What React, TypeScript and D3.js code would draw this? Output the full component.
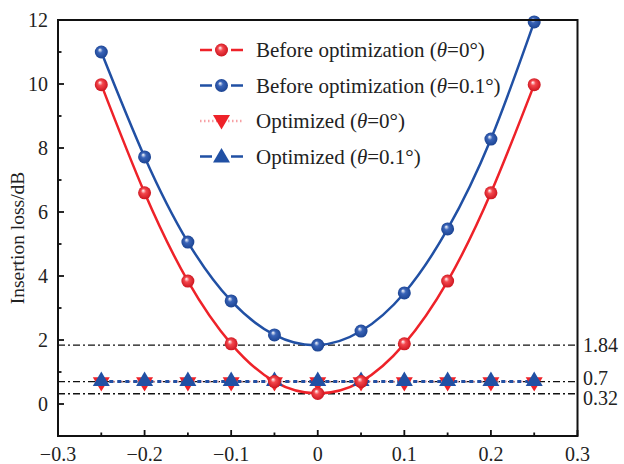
import React from "react";
import * as d3 from "d3";

const xValues = [-0.25, -0.2, -0.15, -0.1, -0.05, 0, 0.05, 0.1, 0.15, 0.2, 0.25];
const beforeTheta0 = [9.98, 6.6, 3.84, 1.88, 0.7, 0.33, 0.7, 1.88, 3.84, 6.6, 9.98];
const beforeTheta01 = [11.0, 7.72, 5.06, 3.22, 2.16, 1.84, 2.28, 3.47, 5.47, 8.28, 11.94];
const optimizedTheta0 = [0.7, 0.7, 0.7, 0.7, 0.7, 0.7, 0.7, 0.7, 0.7, 0.7, 0.7];
const optimizedTheta01 = [0.7, 0.7, 0.7, 0.7, 0.7, 0.7, 0.7, 0.7, 0.7, 0.7, 0.7];
const refLines = [1.84, 0.7, 0.32];
const refLabels = ["1.84", "0.7", "0.32"];
const xTicks = [-0.3, -0.2, -0.1, 0, 0.1, 0.2, 0.3];
const xMinorTicks = [-0.25, -0.15, -0.05, 0.05, 0.15, 0.25];
const yTicks = [0, 2, 4, 6, 8, 10, 12];
const yMinorTicks = [-1, 1, 3, 5, 7, 9, 11];

const RED = "#ee2229";
const BLUE = "#2150a4";
const FONT = "'Liberation Serif', 'Times New Roman', serif";

const L = 58, R = 577.5, T = 20, B = 436;

export default function App() {
  const x = d3.scaleLinear().domain([-0.3, 0.3]).range([L, R]);
  const y = d3.scaleLinear().domain([-1, 12]).range([B, T]);
  const line = d3
    .line<[number, number]>()
    .x((d) => x(d[0]))
    .y((d) => y(d[1]))
    .curve(d3.curveNatural);
  const straight = d3
    .line<[number, number]>()
    .x((d) => x(d[0]))
    .y((d) => y(d[1]));
  const pts = (vals: number[]) => xValues.map((v, i) => [v, vals[i]] as [number, number]);
  const fmt = (v: number) => (v < 0 ? "\u2212" + Math.abs(v) : String(v));

  const tri = (cx: number, cy: number, up: boolean, s = 8.5) =>
    up
      ? `M${cx},${cy - s} L${cx + s},${cy + s * 0.7} L${cx - s},${cy + s * 0.7} Z`
      : `M${cx},${cy + s} L${cx + s},${cy - s * 0.7} L${cx - s},${cy - s * 0.7} Z`;

  const legendRows = [
    { label: "Before optimization (", val: "=0°)", color: RED, kind: "ballR" },
    { label: "Before optimization (", val: "=0.1°)", color: BLUE, kind: "ballB" },
    { label: "Optimized (", val: "=0°)", color: "#f7a0a4", kind: "down" },
    { label: "Optimized (", val: "=0.1°)", color: BLUE, kind: "up" },
  ];

  return (
    <svg width={624} height={464} style={{ position: "absolute", left: 0, top: 0, background: "#fff" }}>
      <defs>
        <radialGradient id="ballR" cx="0.5" cy="0.5" r="0.55" fx="0.38" fy="0.32">
          <stop offset="0" stopColor="#ffffff" />
          <stop offset="0.35" stopColor="#f4474d" />
          <stop offset="1" stopColor="#c8101a" />
        </radialGradient>
        <radialGradient id="ballB" cx="0.5" cy="0.5" r="0.55" fx="0.38" fy="0.32">
          <stop offset="0" stopColor="#ffffff" />
          <stop offset="0.35" stopColor="#3a64b8" />
          <stop offset="1" stopColor="#18408e" />
        </radialGradient>
        <clipPath id="plot">
          <rect x={L} y={T} width={R - L} height={B - T} />
        </clipPath>
      </defs>

      {/* reference lines */}
      {refLines.map((v, i) => (
        <line key={"ref" + i} x1={L} x2={R} y1={y(v)} y2={y(v)} stroke="#111" strokeWidth={1.4} strokeDasharray="7,3,2,3" />
      ))}

      {/* optimized lines */}
      <path d={straight(pts(optimizedTheta0)) || ""} fill="none" stroke="#f7a0a4" strokeWidth={1.5} strokeDasharray="1.5,2.5" />
      <path d={straight(pts(optimizedTheta01)) || ""} fill="none" stroke={BLUE} strokeWidth={3} strokeDasharray="4,4" />

      {/* before curves */}
      <g clipPath="url(#plot)">
        <path d={line(pts(beforeTheta0)) || ""} fill="none" stroke={RED} strokeWidth={2.5} />
        <path d={line(pts(beforeTheta01)) || ""} fill="none" stroke={BLUE} strokeWidth={2.5} />
      </g>

      {/* optimized markers */}
      {xValues.map((v, i) => (
        <path key={"od" + i} d={tri(x(v), y(optimizedTheta0[i]) + 1.5, false)} fill={RED} />
      ))}
      {xValues.map((v, i) => (
        <path key={"ou" + i} d={tri(x(v), y(optimizedTheta01[i]) - 1.5, true)} fill={BLUE} />
      ))}

      {/* ball markers */}
      {xValues.map((v, i) => (
        <circle key={"br" + i} cx={x(v)} cy={y(beforeTheta0[i])} r={6.5} fill="url(#ballR)" />
      ))}
      {xValues.map((v, i) => (
        <circle key={"bb" + i} cx={x(v)} cy={y(beforeTheta01[i])} r={6.5} fill="url(#ballB)" />
      ))}

      {/* axes frame */}
      <rect x={L} y={T} width={R - L} height={B - T} fill="none" stroke="#111" strokeWidth={2} />

      {/* x ticks */}
      {xTicks.map((t) => (
        <g key={"xt" + t}>
          <line x1={x(t)} x2={x(t)} y1={B} y2={B - 6} stroke="#111" strokeWidth={1.8} />
          <text x={x(t)} y={461} textAnchor="middle" fontFamily={FONT} fontSize={20} fill="#222">
            {fmt(t)}
          </text>
        </g>
      ))}
      {xMinorTicks.map((t) => (
        <line key={"xm" + t} x1={x(t)} x2={x(t)} y1={B} y2={B - 3.5} stroke="#111" strokeWidth={1.8} />
      ))}

      {/* y ticks */}
      {yTicks.map((t) => (
        <g key={"yt" + t}>
          <line x1={L} x2={L + 6} y1={y(t)} y2={y(t)} stroke="#111" strokeWidth={1.8} />
          <text x={48} y={y(t) + 7} textAnchor="end" fontFamily={FONT} fontSize={20} fill="#222">
            {t}
          </text>
        </g>
      ))}
      {yMinorTicks.map((t) => (
        <line key={"ym" + t} x1={L} x2={L + 3.5} y1={y(t)} y2={y(t)} stroke="#111" strokeWidth={1.8} />
      ))}

      {/* right reference labels */}
      {refLines.map((v, i) => (
        <text
          key={"rl" + i}
          x={583}
          y={y(v) + 7 + (i === 1 ? -4 : i === 2 ? 4 : 0)}
          fontFamily={FONT}
          fontSize={20}
          fill="#222"
        >
          {refLabels[i]}
        </text>
      ))}

      {/* y label */}
      <text
        transform="translate(24,238) rotate(-90)"
        textAnchor="middle"
        fontFamily={FONT}
        fontSize={19.5}
        fill="#222"
      >
        Insertion loss/dB
      </text>

      {/* legend */}
      {legendRows.map((r, i) => {
        const cy = 50 + i * 35.5;
        return (
          <g key={"lg" + i}>
            <line x1={200} x2={243} y1={cy} y2={cy} stroke={r.color} strokeWidth={2.5} strokeDasharray={r.kind === "down" ? "1.5,2.5" : "12,19"} />
            {r.kind === "ballR" && <circle cx={221.5} cy={cy} r={6.5} fill="url(#ballR)" />}
            {r.kind === "ballB" && <circle cx={221.5} cy={cy} r={6.5} fill="url(#ballB)" />}
            {r.kind === "down" && <path d={tri(221.5, cy, false)} fill={RED} />}
            {r.kind === "up" && <path d={tri(221.5, cy, true)} fill={BLUE} />}
            <text x={256} y={cy + 7} fontFamily={FONT} fontSize={21} fill="#222">
              {r.label}
              <tspan fontStyle="italic">θ</tspan>
              {r.val}
            </text>
          </g>
        );
      })}
    </svg>
  );
}
